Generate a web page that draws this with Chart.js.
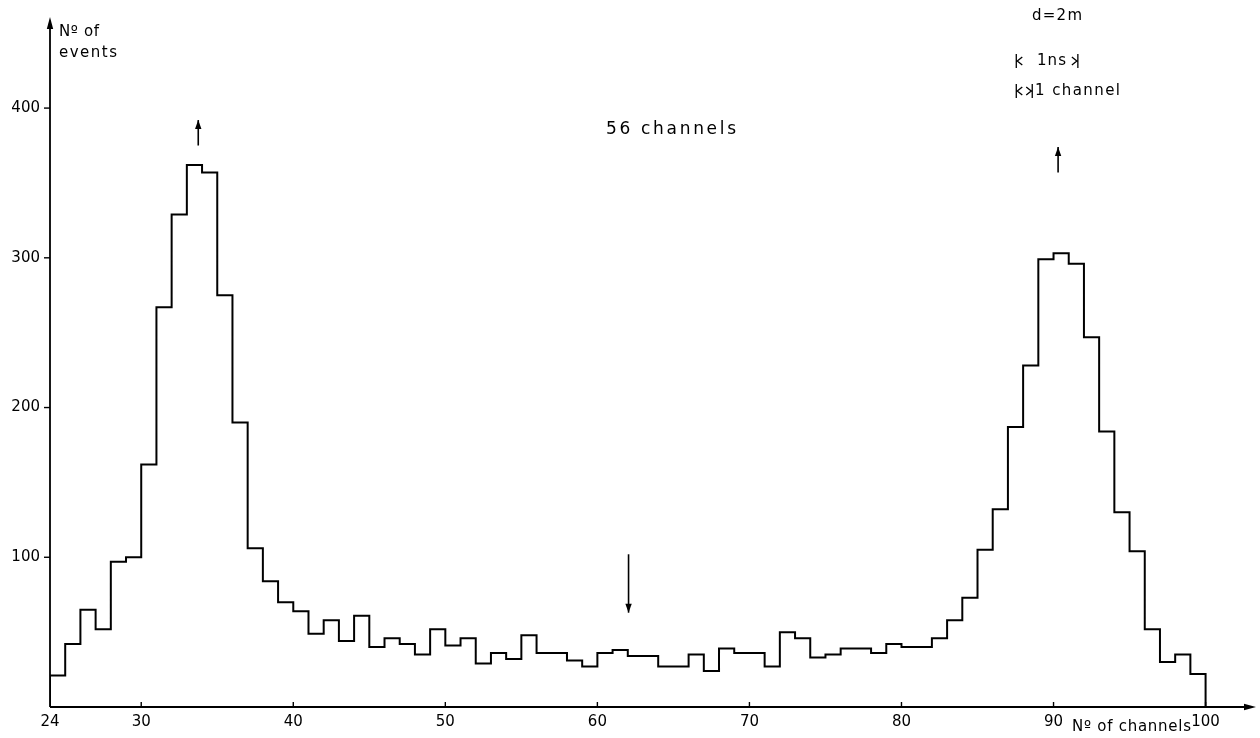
<!DOCTYPE html>
<html>
<head>
<meta charset="utf-8">
<script src="https://cdn.jsdelivr.net/npm/chart.js@4.4.1/dist/chart.umd.min.js"></script>
<style>
html,body{margin:0;padding:0;background:#fff;}
#wrap{width:1260px;height:738px;position:relative;}
canvas{display:block;}
</style>
</head>
<body>
<div id="wrap"><canvas id="c" width="1260" height="738"></canvas></div>
<script>
// ---- data ----
const channelStart = [24,25,26,27,28,29,30,31,32,33,34,35,36,37,38,39,40,41,42,43,44,45,46,47,48,49,
  50,51,52,53,54,55,56,57,58,59,60,61,62,63,64,65,66,67,68,69,70,71,72,73,74,75,76,77,78,79,
  80,81,82,83,84,85,86,87,88,89,90,91,92,93,94,95,96,97,98,99];
const channelEnd = 100;
const events = [21,42,65,52,97,100,162,267,329,362,357,275,190,106,84,70,64,49,58,44,61,40,46,42,35,52,
  41,46,29,36,32,48,36,36,31,27,36,38,34,34,27,27,35,24,39,36,36,27,50,46,33,35,39,39,36,42,
  40,40,46,58,73,105,132,187,228,299,303,296,247,184,130,104,52,30,35,22];
const xTickValues = [24,30,40,50,60,70,80,90,100];
const yTickValues = [100,200,300,400];
const xAxisTitle = 'N\u00BA of channels';
const yAxisTitle = ['N\u00BA of','events'];
const centerNote = '56 channels';
const distanceNote = 'd=2m';
const nsNote = '1ns';
const channelNote = '1 channel';

// ---- histogram outline points built from the data ----
const points = [{x: channelStart[0], y: 0}];
channelStart.forEach((s, i) => {
  const e = i + 1 < channelStart.length ? channelStart[i + 1] : channelEnd;
  points.push({x: s, y: events[i]});
  points.push({x: e, y: events[i]});
});
points.push({x: channelEnd, y: 0});

const FONT = '"DejaVu Sans", "Liberation Sans", sans-serif';

function spacedText(ctx, str, left, cy, width, size) {
  ctx.font = size + 'px ' + FONT;
  ctx.textBaseline = 'middle';
  ctx.textAlign = 'left';
  const chars = [...str];
  const ws = chars.map(c => ctx.measureText(c).width);
  const total = ws.reduce((a, b) => a + b, 0);
  const gap = chars.length > 1 ? (width - total) / (chars.length - 1) : 0;
  let xx = left;
  chars.forEach((c, i) => { ctx.fillText(c, xx, cy); xx += ws[i] + gap; });
}

function arrowHead(ctx, tipX, tipY, dir, len, half) {
  ctx.beginPath();
  if (dir === 'up') { ctx.moveTo(tipX, tipY); ctx.lineTo(tipX - half, tipY + len); ctx.lineTo(tipX + half, tipY + len); }
  else if (dir === 'down') { ctx.moveTo(tipX, tipY); ctx.lineTo(tipX - half, tipY - len); ctx.lineTo(tipX + half, tipY - len); }
  else { ctx.moveTo(tipX, tipY); ctx.lineTo(tipX - len, tipY - half); ctx.lineTo(tipX - len, tipY + half); }
  ctx.closePath();
  ctx.fill();
}

function vArrow(ctx, xs, ys, fromV, toV, xv) {
  const px = xs.getPixelForValue(xv);
  const p0 = ys.getPixelForValue(fromV);
  const p1 = ys.getPixelForValue(toV);
  ctx.lineWidth = 1.6;
  ctx.beginPath(); ctx.moveTo(px, p0); ctx.lineTo(px, p1); ctx.stroke();
  arrowHead(ctx, px, p1, p1 < p0 ? 'up' : 'down', 9, 3.2);
}

function scaleBar(ctx, xs, v0, v1, cy, h) {
  const a = xs.getPixelForValue(v0), b = xs.getPixelForValue(v1);
  ctx.lineWidth = 1.3;
  ctx.beginPath();
  ctx.moveTo(a, cy - h); ctx.lineTo(a, cy + h);
  ctx.moveTo(b, cy - h); ctx.lineTo(b, cy + h);
  ctx.moveTo(a + 6, cy - 4); ctx.lineTo(a + 1, cy); ctx.lineTo(a + 6, cy + 4);
  ctx.moveTo(b - 6, cy - 4); ctx.lineTo(b - 1, cy); ctx.lineTo(b - 6, cy + 4);
  ctx.stroke();
}

const deco = {
  id: 'deco',
  afterDraw(chart) {
    const {ctx, chartArea: a, scales: {x, y}} = chart;
    ctx.save();
    ctx.strokeStyle = '#000';
    ctx.fillStyle = '#000';
    const ax = x.getPixelForValue(24);
    const ay = y.getPixelForValue(0);
    ctx.lineWidth = 1.8;
    ctx.beginPath();
    ctx.moveTo(ax, ay); ctx.lineTo(ax, a.top + 4);
    ctx.moveTo(ax, ay); ctx.lineTo(a.right - 4, ay);
    ctx.stroke();
    arrowHead(ctx, ax, a.top - 2, 'up', 12, 3.2);
    arrowHead(ctx, a.right + 1, ay, 'right', 12, 3.2);
    ctx.lineWidth = 1.4;
    yTickValues.forEach(v => {
      const py = y.getPixelForValue(v);
      ctx.beginPath(); ctx.moveTo(ax - 6, py); ctx.lineTo(ax, py); ctx.stroke();
    });
    xTickValues.forEach(v => {
      if (v === 24) return;
      const px = x.getPixelForValue(v);
      ctx.beginPath(); ctx.moveTo(px, ay); ctx.lineTo(px, ay - 5); ctx.stroke();
    });
    spacedText(ctx, yAxisTitle[0], 59, 32, 40, 15);
    spacedText(ctx, yAxisTitle[1], 59, 53, 58, 15);
    spacedText(ctx, xAxisTitle, 1072, 727, 119, 15);
    spacedText(ctx, centerNote, 606, 130, 130, 17);
    spacedText(ctx, distanceNote, 1032, 16, 50, 15);
    scaleBar(ctx, x, 87.55, 91.6, 61, 7);
    spacedText(ctx, nsNote, 1037, 61, 29, 15);
    scaleBar(ctx, x, 87.55, 88.6, 91, 7);
    spacedText(ctx, channelNote, 1035, 91, 85, 15);
    vArrow(ctx, x, y, 375, 392, 33.75);
    vArrow(ctx, x, y, 102, 63, 62.05);
    vArrow(ctx, x, y, 357, 374, 90.3);
    ctx.restore();
  }
};

new Chart(document.getElementById('c').getContext('2d'), {
  type: 'line',
  data: {
    datasets: [{
      data: points,
      borderColor: '#000',
      borderWidth: 2,
      borderJoinStyle: 'miter',
      pointRadius: 0,
      fill: false,
      tension: 0
    }]
  },
  options: {
    responsive: false,
    animation: false,
    devicePixelRatio: 1,
    layout: {padding: {left: 0, top: 12, right: 5, bottom: 0}},
    plugins: {legend: {display: false}, tooltip: {enabled: false}},
    scales: {
      x: {
        type: 'linear', min: 24, max: 103.25,
        afterBuildTicks: s => { s.ticks = xTickValues.map(v => ({value: v})); },
        afterFit: s => { s.height = 31; },
        grid: {display: false, drawTicks: false},
        border: {display: false},
        ticks: {color: '#000', font: {family: FONT, size: 15}, padding: 6, maxRotation: 0, autoSkip: false}
      },
      y: {
        type: 'linear', min: 0, max: 459.5,
        afterBuildTicks: s => { s.ticks = yTickValues.map(v => ({value: v})); },
        afterFit: s => { s.width = 50; },
        grid: {display: false, drawTicks: false},
        border: {display: false},
        ticks: {color: '#000', font: {family: FONT, size: 15}, padding: 10}
      }
    }
  },
  plugins: [deco]
});
</script>
</body>
</html>
